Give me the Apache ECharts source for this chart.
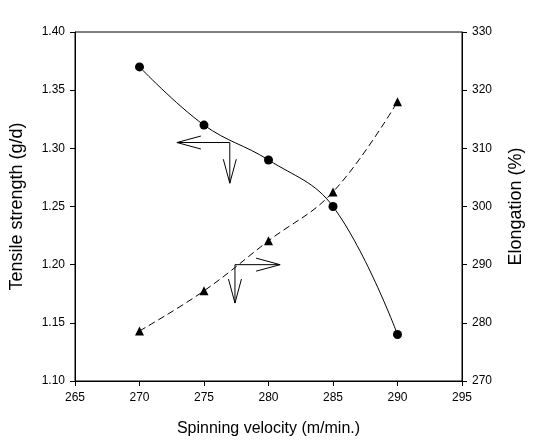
<!DOCTYPE html>
<html>
<head>
<meta charset="utf-8">
<script src="https://cdn.jsdelivr.net/npm/echarts@6/dist/echarts.min.js"></script>
<style>
  html, body { margin: 0; padding: 0; background: #ffffff; }
  #chart { width: 533px; height: 444px; }
</style>
</head>
<body>
<div id="chart"></div>
<script>
// Spinning velocity (m/min.) and the two measured fibre properties
const velocity = [270, 275, 280, 285, 290];
const tensileStrength = [1.37, 1.32, 1.29, 1.25, 1.14];   // g/d, left axis
const elongation = [278.6, 285.5, 294.1, 302.5, 318.0];    // %, right axis

// Axis ranges and tick steps
const velocityRange = [265, 295, 5];
const strengthRange = [1.10, 1.40, 0.05];
const elongationRange = [270, 330, 10];

// Axis-pointer arrows, in data units: [cornerX, cornerY, horizontalTipX, verticalTipY]
const strengthArrow = [277.0, 1.305, 272.9, 1.27];
const elongationArrow = [277.4, 290.0, 280.9, 283.4];

const FONT = '"Liberation Sans", Arial, sans-serif';
const pairs = (xs, ys) => xs.map((x, i) => [x, ys[i]]);

// Draws an L-shaped pointer: a horizontal shaft and a downward shaft, both with open heads
function arrowItem(params, api) {
  const c = api.coord([api.value(0), api.value(1)]);
  const h = api.coord([api.value(2), api.value(1)]);
  const v = api.coord([api.value(0), api.value(3)]);
  const dir = Math.sign(h[0] - c[0]);
  const len = 24, half = 6.5;
  const style = { stroke: '#000', lineWidth: 1, fill: null };
  return {
    type: 'group',
    children: [
      { type: 'polyline', shape: { points: [h, c, v] }, style },
      { type: 'polyline', shape: { points: [[h[0] - dir * len, h[1] - half], h, [h[0] - dir * len, h[1] + half]] }, style },
      { type: 'polyline', shape: { points: [[v[0] - half, v[1] - len], v, [v[0] + half, v[1] - len]] }, style }
    ]
  };
}

const axisLine = { show: true, lineStyle: { color: '#000', width: 1 } };
const axisTick = { show: true, inside: false, length: 5, lineStyle: { color: '#000', width: 1 } };
const labelStyle = { color: '#000', fontFamily: FONT, fontSize: 12 };
const xNameStyle = { color: '#000', fontFamily: FONT, fontSize: 16 };
const yNameStyle = { color: '#000', fontFamily: FONT, fontSize: 18 };

const chart = echarts.init(document.getElementById('chart'), null, { renderer: 'canvas' });
chart.setOption({
  animation: false,
  backgroundColor: '#ffffff',
  grid: {
    left: 75, right: 67, top: 32, bottom: 63,
    show: true, borderColor: '#000', borderWidth: 1, backgroundColor: 'transparent'
  },
  xAxis: {
    type: 'value',
    min: velocityRange[0], max: velocityRange[1], interval: velocityRange[2],
    name: 'Spinning velocity (m/min.)',
    nameLocation: 'middle', nameGap: 40, nameTextStyle: xNameStyle,
    axisLine, axisTick,
    axisLabel: Object.assign({ margin: 11 }, labelStyle),
    splitLine: { show: false }
  },
  yAxis: [
    {
      type: 'value', position: 'left',
      min: strengthRange[0], max: strengthRange[1], interval: strengthRange[2],
      name: 'Tensile strength (g/d)',
      nameLocation: 'middle', nameGap: 49, nameTextStyle: yNameStyle,
      axisLine, axisTick,
      axisLabel: Object.assign({ margin: 10, formatter: v => v.toFixed(2) }, labelStyle),
      splitLine: { show: false }
    },
    {
      type: 'value', position: 'right',
      min: elongationRange[0], max: elongationRange[1], interval: elongationRange[2],
      name: 'Elongation (%)',
      nameLocation: 'middle', nameGap: 45, nameTextStyle: yNameStyle,
      axisLine, axisTick,
      axisLabel: Object.assign({ margin: 10 }, labelStyle),
      splitLine: { show: false }
    }
  ],
  series: [
    {
      name: 'Tensile strength',
      type: 'line',
      yAxisIndex: 0,
      data: pairs(velocity, tensileStrength),
      smooth: 0.4,
      symbol: 'circle', symbolSize: 9,
      itemStyle: { color: '#000' },
      lineStyle: { color: '#000', width: 1 }
    },
    {
      name: 'Elongation',
      type: 'line',
      yAxisIndex: 1,
      data: pairs(velocity, elongation),
      smooth: 0.4,
      symbol: 'triangle', symbolSize: 9,
      itemStyle: { color: '#000' },
      lineStyle: { color: '#000', width: 1, type: [7, 4] }
    },
    {
      type: 'custom', yAxisIndex: 0, silent: true,
      renderItem: arrowItem,
      data: [strengthArrow]
    },
    {
      type: 'custom', yAxisIndex: 1, silent: true,
      renderItem: arrowItem,
      data: [elongationArrow]
    }
  ]
});
</script>
</body>
</html>
